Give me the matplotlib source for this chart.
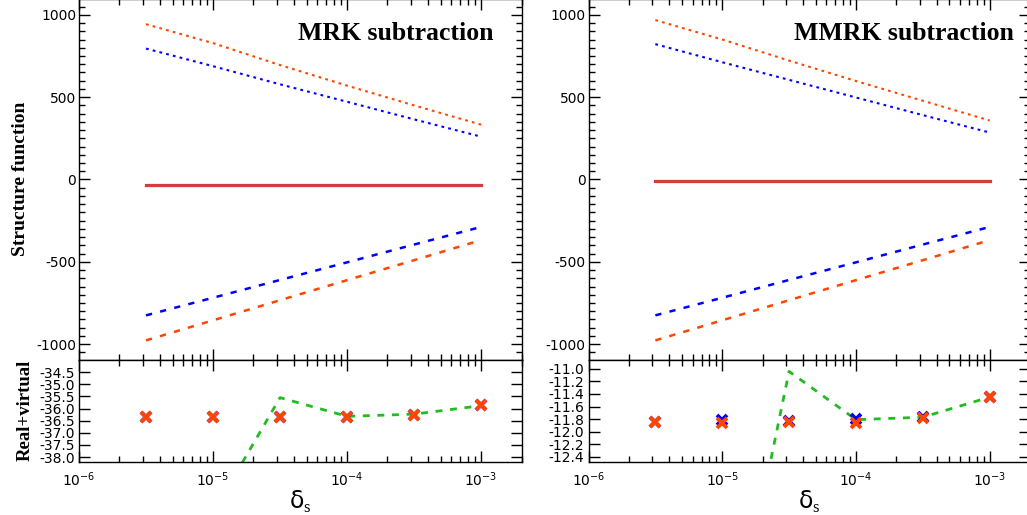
import matplotlib
matplotlib.use("Agg")
import matplotlib.pyplot as plt
from matplotlib.ticker import MultipleLocator, FixedLocator, FormatStrFormatter, LogLocator, NullFormatter

plt.rcParams['axes.unicode_minus'] = False
plt.rcParams['lines.scale_dashes'] = False
plt.rcParams['mathtext.fontset'] = 'custom'
plt.rcParams['mathtext.rm'] = 'Liberation Serif'
plt.rcParams['mathtext.it'] = 'DejaVu Sans'
plt.rcParams['font.family'] = ['DejaVu Sans']

# ---------------- data ----------------
delta = [3.16e-6, 1e-5, 3.16e-5, 1e-4, 3.16e-4, 1e-3]
delta_green = [1e-5, 3.16e-5, 1e-4, 3.16e-4, 1e-3]

# MRK subtraction (left)
mrk_orange_dotted = [943, 828, 695, 570, 450, 333]
mrk_blue_dotted = [795, 688, 578, 472, 365, 260]
mrk_blue_dashed = [-825, -718, -610, -503, -395, -288]
mrk_orange_dashed = [-977, -855, -733, -611, -490, -368]
mrk_sum = [-32, -32, -32, -32, -32, -32]
mrk_rv_blue = [-36.33, -36.33, -36.33, -36.33, -36.25, -35.87]
mrk_rv_orange = [-36.33, -36.33, -36.33, -36.33, -36.25, -35.87]
mrk_rv_green = [-40.3, -35.55, -36.32, -36.23, -35.88]

# MMRK subtraction (right)
mmrk_orange_dotted = [968, 850, 722, 598, 478, 358]
mmrk_blue_dotted = [822, 712, 605, 498, 391, 285]
mmrk_blue_dashed = [-825, -718, -610, -503, -395, -288]
mmrk_orange_dashed = [-977, -855, -733, -611, -490, -368]
mmrk_sum = [-8, -8, -8, -8, -8, -8]
mmrk_rv_blue = [-11.84, -11.81, -11.83, -11.80, -11.77, -11.45]
mmrk_rv_orange = [-11.84, -11.86, -11.84, -11.86, -11.78, -11.45]
mmrk_rv_green = [-16.2, -11.04, -11.81, -11.77, -11.45]

titles = ["MRK subtraction", "MMRK subtraction"]
main_yticks = [-1000, -500, 0, 500, 1000]
rv_yticks_left = [-34.5, -35.0, -35.5, -36.0, -36.5, -37.0, -37.5, -38.0]
rv_yticks_right = [-11.0, -11.2, -11.4, -11.6, -11.8, -12.0, -12.2, -12.4]

ORANGE = '#ff4500'
BLUE = '#0000ff'
RED = '#dc3c32'
GREEN = '#22bb22'

W, H = 1027, 515
fig = plt.figure(figsize=(W / 100, H / 100), dpi=100)


def fx(px):
    return px / W


def fy(py):
    return 1 - py / H


panels = [
    dict(x0=79, x1=521.5, main=(mrk_orange_dotted, mrk_blue_dotted, mrk_blue_dashed, mrk_orange_dashed, mrk_sum),
         rv=(mrk_rv_blue, mrk_rv_orange, mrk_rv_green), rvticks=rv_yticks_left, rvlim=(-38.2, -33.98),
         title=titles[0], title_x=494, fmt='%.1f'),
    dict(x0=588.5, x1=1030, main=(mmrk_orange_dotted, mmrk_blue_dotted, mmrk_blue_dashed, mmrk_orange_dashed, mmrk_sum),
         rv=(mmrk_rv_blue, mmrk_rv_orange, mmrk_rv_green), rvticks=rv_yticks_right, rvlim=(-12.485, -10.85),
         title=titles[1], title_x=1014, fmt='%.1f'),
]

top_px, mid_px, bot_px = -1.0, 359.5, 462.0

for i, p in enumerate(panels):
    ax = fig.add_axes([fx(p['x0']), fy(mid_px), fx(p['x1'] - p['x0']), (mid_px - top_px) / H])
    axb = fig.add_axes([fx(p['x0']), fy(bot_px), fx(p['x1'] - p['x0']), (bot_px - mid_px) / H])

    od, bd, bda, oda, s = p['main']
    ax.plot(delta, od, color=ORANGE, lw=1.5, dashes=(2.0, 3.0))
    ax.plot(delta, bd, color=BLUE, lw=1.5, dashes=(2.0, 3.0))
    ax.plot(delta, bda, color=BLUE, lw=1.8, dashes=(4.5, 6.0))
    ax.plot(delta, oda, color=ORANGE, lw=1.8, dashes=(4.5, 6.0))
    ax.plot(delta, s, color='#7a3ca0', lw=2.3)
    ax.plot(delta, s, color=RED, lw=2.0)

    ax.set_xscale('log')
    ax.set_xlim(1e-6, 2e-3)
    ax.set_ylim(-1093, 1096)
    ax.yaxis.set_major_locator(FixedLocator(main_yticks))
    ax.yaxis.set_minor_locator(MultipleLocator(50))
    ax.xaxis.set_major_locator(LogLocator(base=10, numticks=10))
    ax.xaxis.set_minor_locator(LogLocator(base=10, subs=range(2, 10), numticks=20))
    ax.xaxis.set_major_formatter(NullFormatter())
    ax.xaxis.set_minor_formatter(NullFormatter())
    ax.tick_params(which='both', direction='in', top=True, right=True, labelsize=10, width=1.0)
    ax.tick_params(which='major', length=8)
    ax.tick_params(which='minor', length=4)
    ax.tick_params(axis='y', pad=2)
    ax.text(fx(p['title_x']), fy(40), p['title'], transform=fig.transFigure, ha='right', va='baseline',
            fontsize=18.5, fontweight='bold', family='Liberation Serif')

    rb, ro, rg = p['rv']
    axb.plot(delta_green, rg, color=GREEN, lw=2.0, dashes=(5.0, 5.5))
    axb.plot(delta, rb, ls='none', marker='x', ms=7, mew=2.8, color=BLUE)
    axb.plot(delta, ro, ls='none', marker='x', ms=6.5, mew=2.8, color=ORANGE)
    axb.set_xscale('log')
    axb.set_xlim(1e-6, 2e-3)
    axb.set_ylim(*p['rvlim'])
    axb.yaxis.set_major_locator(FixedLocator(p['rvticks']))
    axb.yaxis.set_major_formatter(FormatStrFormatter(p['fmt']))
    axb.xaxis.set_major_locator(LogLocator(base=10, numticks=10))
    axb.xaxis.set_minor_locator(LogLocator(base=10, subs=range(2, 10), numticks=20))
    axb.xaxis.set_minor_formatter(NullFormatter())
    axb.tick_params(which='both', direction='in', top=True, right=True, labelsize=10, width=1.0)
    axb.tick_params(which='major', length=8)
    axb.tick_params(which='minor', length=4)
    axb.tick_params(axis='x', pad=6)
    axb.tick_params(axis='y', pad=3)
    axb.set_xlabel(r'$\delta_{\mathrm{s}}$', fontsize=17, labelpad=0)

    for a in (ax, axb):
        for sp in a.spines.values():
            sp.set_linewidth(1.0)

    if i == 0:
        ax.set_ylabel('Structure function', fontsize=14, fontweight='bold', family='Liberation Serif', labelpad=5)
        axb.set_ylabel('Real+virtual', fontsize=13.5, fontweight='bold', family='Liberation Serif', labelpad=4)

fig.savefig('out.png', dpi=100)
